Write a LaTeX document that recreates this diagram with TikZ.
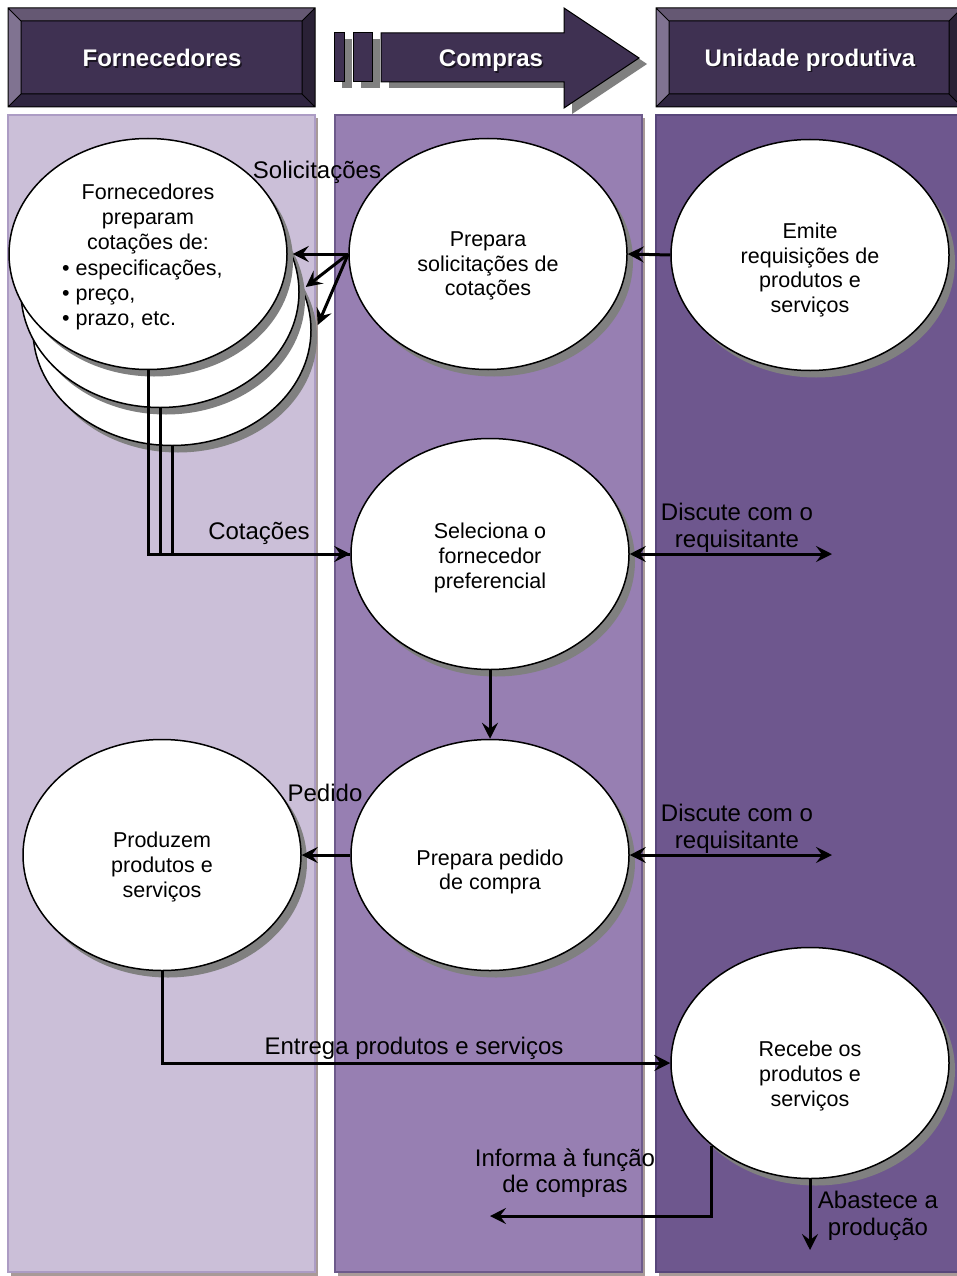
\documentclass[tikz,border=0pt]{standalone}
\usepackage{fontspec}
\setmainfont{Liberation Sans}
\usetikzlibrary{shapes.geometric,shadows,arrows.meta,calc}

\definecolor{hdmain}{HTML}{3F3152}
\definecolor{hdtop}{HTML}{655873}
\definecolor{hdleft}{HTML}{807391}
\definecolor{hdbot}{HTML}{2F2540}
\definecolor{hdright}{HTML}{2A2136}
\definecolor{laneA}{HTML}{CBBFD8}
\definecolor{laneAb}{HTML}{AC9CC4}
\definecolor{laneB}{HTML}{977FB2}
\definecolor{laneBb}{HTML}{6D5A8B}
\definecolor{laneC}{HTML}{6E578E}
\definecolor{laneCb}{HTML}{58467A}
\definecolor{shgray}{HTML}{808080}
\definecolor{laneshadow}{HTML}{A89A98}

\newcommand{\bvbox}[5]{%
  \fill[hdmain] (#1,#2) rectangle (#3,#4);
  \fill[hdtop] (#1,#2) -- (#3,#2) -- ({#3-#5},{#2+#5}) -- ({#1+#5},{#2+#5}) -- cycle;
  \fill[hdleft] (#1,#2) -- ({#1+#5},{#2+#5}) -- ({#1+#5},{#4-#5}) -- (#1,#4) -- cycle;
  \fill[hdbot] (#1,#4) -- ({#1+#5},{#4-#5}) -- ({#3-#5},{#4-#5}) -- (#3,#4) -- cycle;
  \fill[hdright] (#3,#2) -- ({#3-#5},{#2+#5}) -- ({#3-#5},{#4-#5}) -- (#3,#4) -- cycle;
  \draw[black,line width=1pt] (#1,#2) rectangle (#3,#4)
     ({#1+#5},{#2+#5}) rectangle ({#3-#5},{#4-#5})
     (#1,#2) -- ({#1+#5},{#2+#5}) (#3,#2) -- ({#3-#5},{#2+#5})
     (#1,#4) -- ({#1+#5},{#4-#5}) (#3,#4) -- ({#3-#5},{#4-#5});
}

\begin{document}
\begin{tikzpicture}[x=1pt,y=-1pt,
  ell/.style={ellipse,draw=black,line width=1.5pt,fill=white,minimum width=278pt,minimum height=231pt,inner sep=0pt,
     drop shadow={shadow xshift=6pt,shadow yshift=-7pt,fill=shgray,opacity=1}},
  etxt/.style={font=\fontsize{21.5}{24.8}\selectfont,align=center,inner sep=0pt},
  ltxt/.style={font=\fontsize{24}{26.5}\selectfont,align=center,inner sep=0pt},
  htxt/.style={font=\fontsize{24}{28}\selectfont\bfseries,text=white,inner sep=0pt},
  hshd/.style={font=\fontsize{24}{28}\selectfont\bfseries,text=black,opacity=0.6,inner sep=0pt},
  conn/.style={line width=3pt,-{Stealth[length=16pt,width=16pt,inset=6pt]}},
  conn2/.style={line width=3pt,{Stealth[length=16pt,width=16pt,inset=6pt]}-{Stealth[length=16pt,width=16pt,inset=6pt]}},
  plain/.style={line width=3pt}
  ]
\useasboundingbox (0,0) rectangle (956,1276);
\fill[white] (0,0) rectangle (956,1276);

% lanes
\fill[laneshadow] (11,118) rectangle (318,1276);
\fill[laneshadow] (338,118) rectangle (645,1276);
\fill[laneshadow] (659,118) rectangle (960,1276);
\filldraw[fill=laneA,draw=laneAb,line width=1.5pt] (8,115) rectangle (315,1272);
\filldraw[fill=laneB,draw=laneBb,line width=1.5pt] (335,115) rectangle (642,1272);
\filldraw[fill=laneC,draw=laneCb,line width=1.5pt] (656,115) rectangle (962,1272);

% header boxes
\bvbox{8}{8}{315}{107}{13}
\node[hshd] (hFs) at (163.5,59.5) {Fornecedores};
\node[htxt] (hF) at (162,58) {Fornecedores};

\fill[shgray] (342,39) rectangle (352,88);
\fill[shgray] (361,39) rectangle (380,88);
\fill[shgray] (389,39) -- (572,39) -- (572,14) -- (647,64) -- (572,114) -- (572,88) -- (389,88) -- cycle;
\filldraw[fill=hdmain,draw=black,line width=1pt] (334,33) rectangle (344,82);
\filldraw[fill=hdmain,draw=black,line width=1pt] (353,33) rectangle (372,82);
\filldraw[fill=hdmain,draw=black,line width=1pt] (381,33) -- (564,33) -- (564,8) -- (639,58) -- (564,108) -- (564,82) -- (381,82) -- cycle;
\node[hshd] (hCs) at (492.5,62.5) {Compras};
\node[htxt] (hC) at (491,61) {Compras};

\bvbox{656}{8}{962}{107}{13}
\node[hshd] (hUs) at (811.5,61.5) {Unidade produtiva};
\node[htxt] (hU) at (810,60) {Unidade produtiva};

% ellipses
\node[ell] (f3) at (172,330) {};
\node[ell] (f2) at (160,292) {};
\node[ell] (f1) at (148,254) {};
\node[ell] (prep) at (488,254) {};
\node[ell] (emit) at (810,255) {};
\node[ell] (sel) at (490,554) {};
\node[ell] (ped) at (490,855) {};
\node[ell] (prod) at (162,855) {};
\node[ell] (rec) at (810,1063) {};

% ellipse texts
\node[etxt] (f1t) at (148,219) {Fornecedores\\preparam\\cotações de:};
\node[etxt,align=left,anchor=west] (f1b) at (62,295) {• especificações,\\• preço,\\• prazo, etc.};
\node[etxt] (prept) at (488,266) {Prepara\\solicitações de\\cotações};
\node[etxt] (emitt) at (810,270) {Emite\\requisições de\\produtos e\\serviços};
\node[etxt] (selt) at (490,558) {Seleciona o\\fornecedor\\preferencial};
\node[etxt] (pedt) at (490,872) {Prepara pedido\\de compra};
\node[etxt] (prodt) at (162,867) {Produzem\\produtos e\\serviços};
\node[etxt] (rect) at (810,1076) {Recebe os\\produtos e\\serviços};

% connectors
\draw[conn] (emit.west) -- (prep.east);
\draw[conn] (prep.west) -- ([xshift=5pt]f1.east);
\draw[conn] (prep.west) -- ([xshift=6pt,yshift=5pt]f2.east);
\draw[conn] (prep.west) -- ([xshift=6pt,yshift=5pt]f3.east);
\node[ltxt] (lsol) at (317,172) {Solicitações};

\draw[plain] (f3.south) |- (sel.west);
\draw[plain] (f2.south) |- (sel.west);
\draw[conn] (f1.south) |- (sel.west);
\node[ltxt] (lcot) at (259,533) {Cotações};

\coordinate (d1) at (832,554);
\draw[conn2] (sel.east) -- (d1);
\node[ltxt] (ldis1) at (737,528) {Discute com o\\requisitante};

\draw[conn] (sel.south) -- (ped.north);

\draw[conn] (ped.west) -- (prod.east);
\node[ltxt] (lped) at (325,793) {Pedido};

\coordinate (d2) at (832,855);
\draw[conn2] (ped.east) -- (d2);
\node[ltxt] (ldis2) at (737,829) {Discute com o\\requisitante};

\draw[conn] (prod.south) |- (rec.west);
\node[ltxt] (lent) at (414,1048) {Entrega produtos e serviços};

\coordinate (i1) at (490,1216);
\draw[conn] (rec.220) |- (i1);
\node[ltxt] (linf) at (565,1173) {Informa à função\\de compras};

\coordinate (a1) at (810,1250);
\draw[conn] (rec.south) -- (a1);
\node[ltxt] (laba) at (878,1216) {Abastece a\\produção};
\end{tikzpicture}
\end{document}
